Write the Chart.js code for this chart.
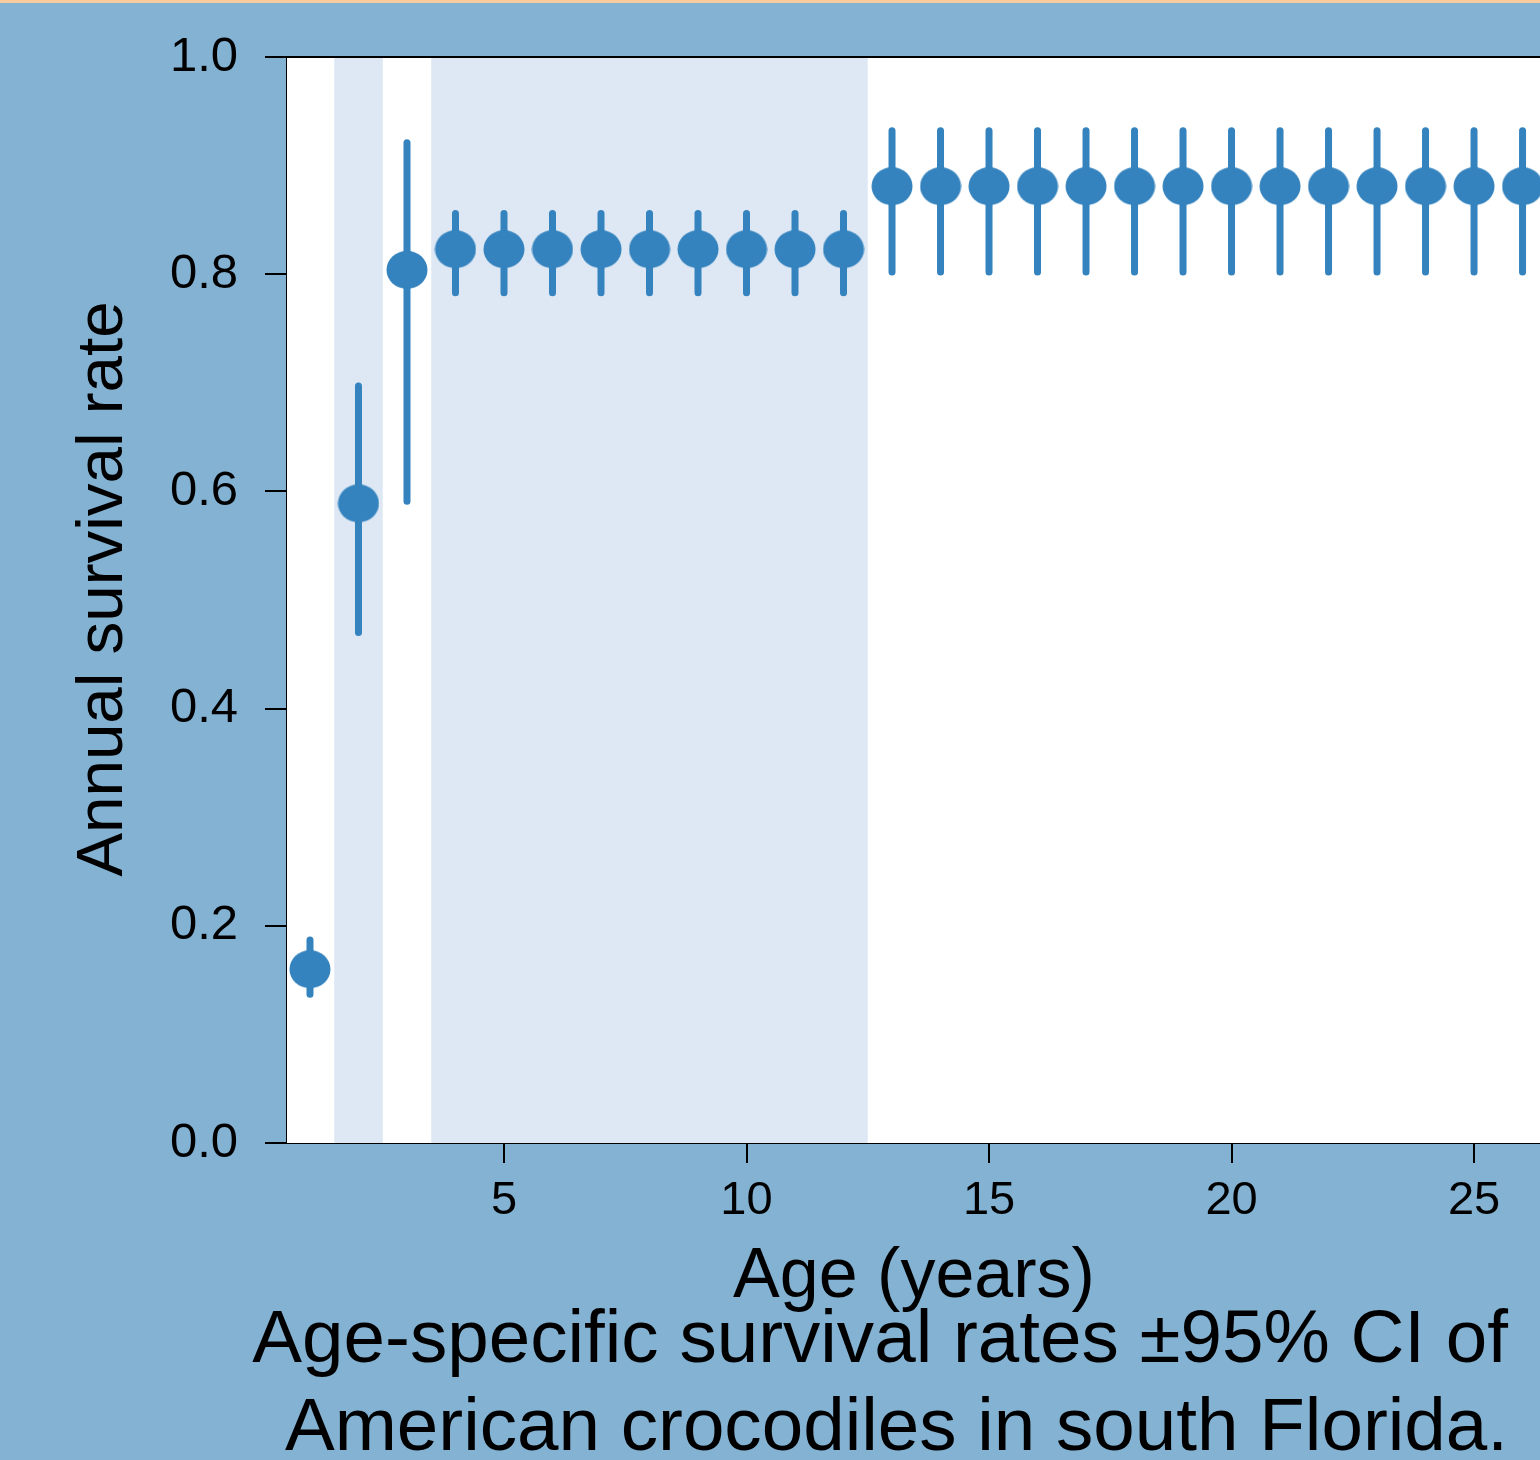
<!DOCTYPE html>
<html>
<head>
<meta charset="utf-8">
<script src="https://cdn.jsdelivr.net/npm/chart.js@4.4.1/dist/chart.umd.min.js"></script>
<style>
    html, body { margin: 0; padding: 0; background: #83b2d3; }
    #wrap { position: relative; width: 1540px; height: 1460px; overflow: hidden; }
    #strip { position: absolute; left: 0; top: 0; width: 1540px; height: 3px; background: #f8cc9c; }
    canvas { display: block; }
</style>
</head>
<body>
<div id="wrap">
    <canvas id="survivalChart" width="1540" height="1460"></canvas>
    <div id="strip"></div>
</div>
<script>
// data
const ages = [1, 2, 3, 4, 5, 6, 7, 8, 9, 10, 11, 12, 13, 14, 15, 16, 17, 18, 19, 20, 21, 22, 23, 24, 25, 26];
const survival = [0.160, 0.589, 0.804, 0.823, 0.823, 0.823, 0.823, 0.823, 0.823, 0.823, 0.823, 0.823,
    0.881, 0.881, 0.881, 0.881, 0.881, 0.881, 0.881, 0.881, 0.881, 0.881, 0.881, 0.881, 0.881, 0.881];
const lowerCI = [0.137, 0.470, 0.591, 0.783, 0.783, 0.783, 0.783, 0.783, 0.783, 0.783, 0.783, 0.783,
    0.802, 0.802, 0.802, 0.802, 0.802, 0.802, 0.802, 0.802, 0.802, 0.802, 0.802, 0.802, 0.802, 0.802];
const upperCI = [0.187, 0.697, 0.921, 0.856, 0.856, 0.856, 0.856, 0.856, 0.856, 0.856, 0.856, 0.856,
    0.932, 0.932, 0.932, 0.932, 0.932, 0.932, 0.932, 0.932, 0.932, 0.932, 0.932, 0.932, 0.932, 0.932];
const bandStart = [1.5, 3.5];
const bandEnd = [2.5, 12.5];
const xTicks = [5, 10, 15, 20, 25];
const yTicks = [0, 0.2, 0.4, 0.6, 0.8, 1.0];

const yTitle = "Annual survival rate";
const xTitle = "Age (years)";
const caption = ["Age-specific survival rates \u00b195% CI of", "American crocodiles in south Florida."];

const FONT = '"Liberation Sans", Arial, Helvetica, sans-serif';
const BLUE = "#3483be";

// ellipse marker used as point style
const dot = document.createElement("canvas");
dot.width = 42;
dot.height = 40;
(function () {
    const c = dot.getContext("2d");
    c.fillStyle = BLUE;
    c.beginPath();
    c.ellipse(21, 20, 20.5, 19, 0, 0, Math.PI * 2);
    c.fill();
})();

const backdrop = {
    id: "backdrop",
    beforeDatasetsDraw(chart) {
        const { ctx, chartArea: a, scales: { x, y } } = chart;
        ctx.save();
        ctx.fillStyle = "#ffffff";
        ctx.fillRect(a.left, a.top, a.right - a.left, a.bottom - a.top);
        ctx.fillStyle = "#dde8f4";
        bandStart.forEach((s, i) => {
            const x0 = x.getPixelForValue(s), x1 = x.getPixelForValue(bandEnd[i]);
            ctx.fillRect(x0, a.top, x1 - x0, a.bottom - a.top);
        });
        // error bars
        ctx.strokeStyle = BLUE;
        ctx.lineWidth = 7;
        ctx.lineCap = "round";
        ages.forEach((age, i) => {
            const px = x.getPixelForValue(age);
            ctx.beginPath();
            ctx.moveTo(px, y.getPixelForValue(lowerCI[i]));
            ctx.lineTo(px, y.getPixelForValue(upperCI[i]));
            ctx.stroke();
        });
        // top frame line
        ctx.strokeStyle = "#000";
        ctx.lineCap = "butt";
        ctx.lineWidth = 2;
        ctx.beginPath();
        ctx.moveTo(a.left, a.top);
        ctx.lineTo(a.right, a.top);
        ctx.stroke();
        ctx.restore();
    },
    afterDraw(chart) {
        const { ctx } = chart;
        ctx.save();
        ctx.fillStyle = "#000";
        ctx.textAlign = "center";
        ctx.textBaseline = "alphabetic";
        ctx.font = "65.5px " + FONT;
        ctx.translate(122, 589);
        ctx.rotate(-Math.PI / 2);
        ctx.fillText(yTitle, 0, 0);
        ctx.restore();

        ctx.save();
        ctx.fillStyle = "#000";
        ctx.textAlign = "center";
        ctx.font = "70px " + FONT;
        ctx.fillText(xTitle, 914, 1297);
        ctx.textAlign = "right";
        ctx.font = "74.6px " + FONT;
        ctx.fillText(caption[0], 1508, 1362);
        ctx.fillText(caption[1], 1508, 1450);
        ctx.restore();
    }
};

const ctx = document.getElementById("survivalChart").getContext("2d");
const survivalChart = new Chart(ctx, {
    type: "scatter",
    data: {
        datasets: [{
            label: "Survival",
            data: ages.map((a, i) => ({ x: a, y: survival[i] })),
            pointStyle: dot,
            pointRadius: 20,
            pointHoverRadius: 20,
            backgroundColor: BLUE,
            borderColor: BLUE,
            showLine: false
        }]
    },
    options: {
        responsive: false,
        animation: false,
        events: [],
        layout: { autoPadding: false, padding: { top: 57, left: 0, right: 0, bottom: 0 } },
        plugins: { legend: { display: false }, tooltip: { enabled: false } },
        scales: {
            x: {
                type: "linear",
                min: 0.526,
                max: 26.36,
                afterFit: (s) => { s.height = 317; },
                afterBuildTicks: (s) => { s.ticks = xTicks.map(v => ({ value: v })); },
                ticks: {
                    color: "#000",
                    font: { family: FONT, size: 47 },
                    padding: 10,
                    maxRotation: 0,
                    autoSkip: false
                },
                grid: { drawOnChartArea: false, color: "#000", tickLength: 20, lineWidth: 2 },
                border: { display: true, color: "#000", width: 2 }
            },
            y: {
                min: 0,
                max: 1,
                afterFit: (s) => { s.width = 287; },
                afterBuildTicks: (s) => { s.ticks = yTicks.map(v => ({ value: v })); },
                ticks: {
                    color: "#000",
                    font: { family: FONT, size: 49 },
                    padding: 27,
                    callback: (v) => Number(v).toFixed(1)
                },
                grid: { drawOnChartArea: false, color: "#000", tickLength: 22, lineWidth: 2 },
                border: { display: true, color: "#000", width: 2 }
            }
        }
    },
    plugins: [backdrop]
});
</script>
</body>
</html>
